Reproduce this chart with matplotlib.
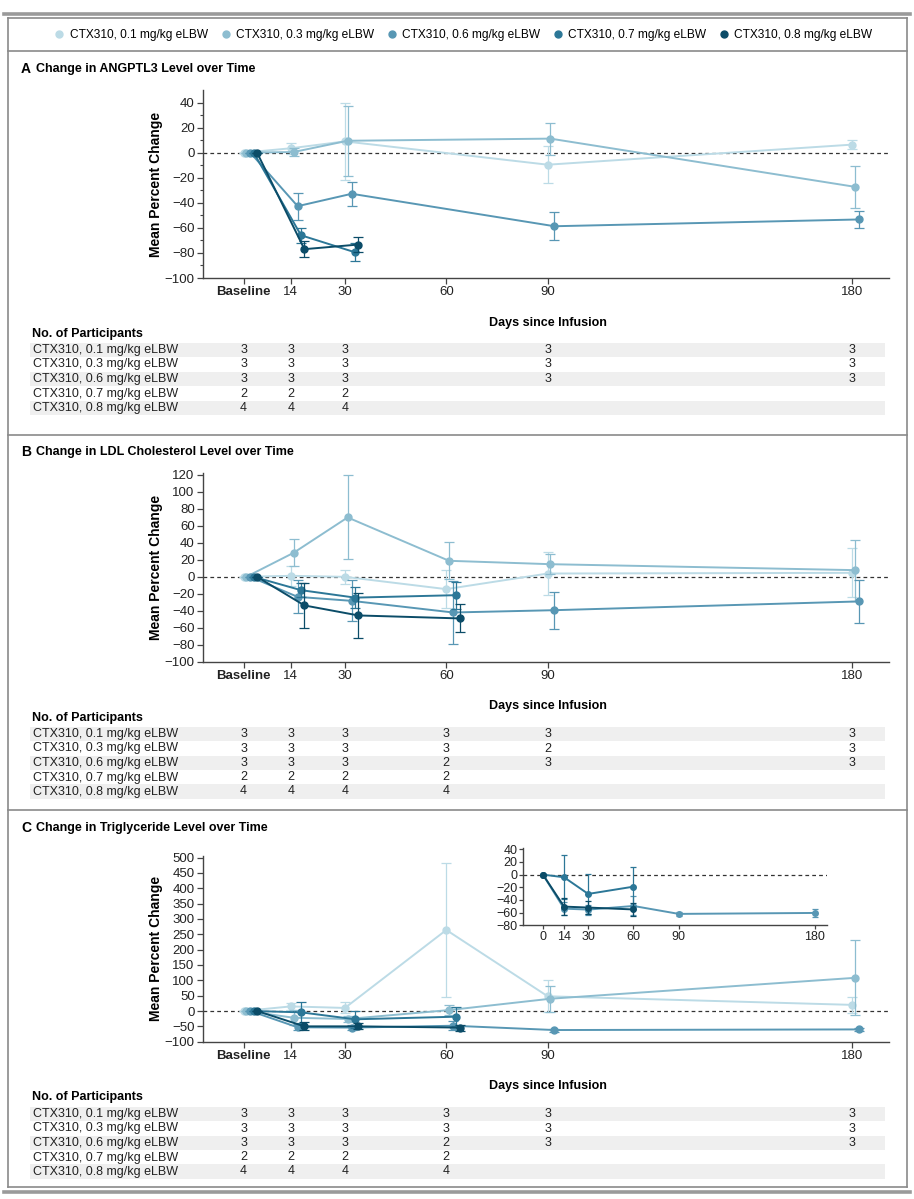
import numpy as np
import matplotlib
matplotlib.use('Agg')
from matplotlib import pyplot as plt
from matplotlib import transforms
from matplotlib.lines import Line2D
from matplotlib.patches import Rectangle

plt.rcParams['font.family'] = ['Liberation Sans', 'DejaVu Sans']

W, H = 914, 1199

doses = ['CTX310, 0.1 mg/kg eLBW', 'CTX310, 0.3 mg/kg eLBW', 'CTX310, 0.6 mg/kg eLBW',
         'CTX310, 0.7 mg/kg eLBW', 'CTX310, 0.8 mg/kg eLBW']
colors = ['#bcdbe6', '#8dbdd0', '#5897b4', '#2c7797', '#0b4c68']
days = [0, 14, 30, 60, 90, 180]
day_labels = ['Baseline', '14', '30', '60', '90', '180']
nan = np.nan

# panel A: ANGPTL3
angptl3_mean = [[0, 3.5, 9, nan, -9.6, 6.4],
                [0, 0.5, 9.5, nan, 11.2, -27.2],
                [0, -42.7, -32.8, nan, -58.7, -53.3],
                [0, -65.9, -79.5, nan, nan, nan],
                [0, -77, -73.3, nan, nan, nan]]
angptl3_err = [[0, 4.5, 31, nan, 14.7, 3.5],
               [0, 3, 28, nan, 12.8, 16.8],
               [0, 10.7, 9.5, nan, 11.2, 7],
               [0, 6, 7.3, nan, nan, nan],
               [0, 6.4, 5.9, nan, nan, nan]]
angptl3_n = [[3, 3, 3, None, 3, 3],
             [3, 3, 3, None, 3, 3],
             [3, 3, 3, None, 3, 3],
             [2, 2, 2, None, None, None],
             [4, 4, 4, None, None, None]]

# panel B: LDL cholesterol
ldl_mean = [[0, 1.2, 0, -14.5, 3.9, 4.7],
            [0, 28.3, 70, 18.9, 14.9, 7.9],
            [0, -23.6, -28.3, -42, -39.3, -29],
            [0, -15.7, -24.5, -21.6, nan, nan],
            [0, -33.7, -45.5, -49, nan, nan]]
ldl_err = [[0, 12, 8, 22, 25.5, 29],
           [0, 16, 49.5, 21.6, 11.5, 36],
           [0, 19.6, 24, 37, 22, 25],
           [0, 8, 12, 16, nan, nan],
           [0, 27, 26, 16.5, nan, nan]]
ldl_n = [[3, 3, 3, 3, 3, 3],
         [3, 3, 3, 3, 2, 3],
         [3, 3, 3, 2, 3, 3],
         [2, 2, 2, 2, None, None],
         [4, 4, 4, 4, None, None]]

# panel C: triglycerides
tg_mean = [[0, 15, 10, 264, 48, 20],
           [0, -22, -26, 3, 40, 108],
           [0, -53, -54, -48, -62, -60],
           [0, -4.3, -27, -18.5, nan, nan],
           [0, -50, -50, -54, nan, nan]]
tg_err = [[0, 12, 18, 219, 52, 27],
          [0, 25, 10, 15, 42, 122],
          [0, 10, 8, 15, 5, 5],
          [0, 35, 28, 30, nan, nan],
          [0, 13, 10, 10, nan, nan]]
tg_n = [[3, 3, 3, 3, 3, 3],
        [3, 3, 3, 3, 3, 3],
        [3, 3, 3, 2, 3, 3],
        [2, 2, 2, 2, None, None],
        [4, 4, 4, 4, None, None]]

# inset: triglycerides, higher doses
inset_mean = [[0, -53.7, -55.2, -49.5, -62, -60.5],
              [0, -4.2, -30.5, -19, nan, nan],
              [0, -50.5, -52, -55, nan, nan]]
inset_err = [[0, 10, 8, 15, 3, 6],
             [0, 35, 32, 31, nan, nan],
             [0, 13, 10, 10, nan, nan]]

offsets = [0, 0.8, 2, 3, 4]

fig = plt.figure(figsize=(W / 100, H / 100), dpi=100)


def fx(x):
    return x / W


def fy(y):
    return 1 - y / H


def axes_px(l, t, r, b):
    return fig.add_axes([fx(l), fy(b), (r - l) / W, (b - t) / H])


def hline(x0, x1, y, lw=1.2, color='#8a8a8a'):
    fig.add_artist(Line2D([fx(x0), fx(x1)], [fy(y), fy(y)], color=color, lw=lw))


def vline(x, y0, y1, lw=1.2, color='#8a8a8a'):
    fig.add_artist(Line2D([fx(x), fx(x)], [fy(y0), fy(y1)], color=color, lw=lw))


def draw_series(ax, means, errs, cols, offs, ms=5, cap=3.5):
    for i in range(len(means)):
        m = np.array(means[i], float)
        e = np.array(errs[i], float)
        ok = ~np.isnan(m)
        x = np.array(days, float)[ok] + offs[i]
        ax.errorbar(x, m[ok], yerr=e[ok], color=cols[i], lw=1.4, marker='o', ms=ms,
                    capsize=cap, elinewidth=0.9, capthick=0.9, zorder=3 + i)
    ax.axhline(0, color='#333333', ls=(0, (3, 2.5)), lw=0.9, zorder=1)


def style_axes(ax, ylim, major, minor=None, fs=9.5):
    for s in ['top', 'right']:
        ax.spines[s].set_visible(False)
    for s in ['left', 'bottom']:
        ax.spines[s].set_color('#444444')
        ax.spines[s].set_linewidth(1.0)
    ax.set_ylim(*ylim)
    ax.set_yticks(major)
    if minor is not None:
        ax.set_yticks(minor, minor=True)
    ax.set_yticklabels([str(v).replace('-', '\u2212') for v in major])
    ax.tick_params(axis='both', labelsize=fs, color='#444444', length=4, width=0.9,
                   pad=2, labelcolor='#222222')
    ax.tick_params(axis='y', which='minor', length=2.5, width=0.8, color='#444444')


def main_panel(top, bottom, ylim, major, minor, means, errs):
    ax = axes_px(203, top, 889, bottom)
    draw_series(ax, means, errs, colors, offsets)
    ax.set_xlim(-12, 191)
    style_axes(ax, ylim, major, minor)
    ax.set_xticks(days)
    ax.set_xticklabels(day_labels)
    ax.get_xticklabels()[0].set_fontweight('bold')
    ax.set_ylabel('Mean Percent Change', fontsize=10, fontweight='bold', labelpad=1)
    return ax


def panel_text(ax, letter, title, ytitle, ydays, yhead, rows_y, counts):
    fig.text(fx(21), fy(ytitle), letter, fontsize=10, fontweight='bold', va='center')
    fig.text(fx(36), fy(ytitle), title, fontsize=9, fontweight='bold', va='center')
    fig.text(fx(548), fy(ydays), 'Days since Infusion', fontsize=9,
             fontweight='bold', ha='center', va='center')
    fig.text(fx(32), fy(yhead), 'No. of Participants', fontsize=9,
             fontweight='bold', va='center')
    tr = transforms.blended_transform_factory(ax.transData, fig.transFigure)
    for i, y in enumerate(rows_y):
        if i % 2 == 0:
            fig.add_artist(Rectangle((fx(30), fy(y + 7.2)), (885 - 30) / W, 14.4 / H,
                                     facecolor='#efefef', edgecolor='none', zorder=0))
        fig.text(fx(33), fy(y), doses[i], fontsize=9, va='center', color='#222222')
        for d, n in zip(days, counts[i]):
            if n is not None:
                fig.text(d, fy(y), str(n), fontsize=9, ha='center', va='center',
                         transform=tr, color='#222222')


# frame lines
hline(4, 910, 13.5, lw=2.6, color='#9a9a9a')
hline(8, 907, 18)
hline(8, 907, 51)
hline(8, 907, 435)
hline(8, 907, 810)
hline(8, 907, 1187)
hline(4, 910, 1192, lw=2.6, color='#9a9a9a')
vline(8, 18, 1187)
vline(907, 18, 1187)

# legend
handles = [Line2D([], [], ls='none', marker='o', ms=5, color=c) for c in colors]
fig.legend(handles, doses, loc='center', bbox_to_anchor=(fx(463), fy(35)), ncol=5,
           frameon=False, fontsize=8.6, handletextpad=0.35, columnspacing=1.0,
           handlelength=1.0)

# panel A
axA = main_panel(90, 278, (-100, 50), np.arange(-100, 41, 20), np.arange(-100, 50, 10),
                 angptl3_mean, angptl3_err)
panel_text(axA, 'A', 'Change in ANGPTL3 Level over Time', 69, 323, 334,
           [350, 364.5, 379, 393.5, 408], angptl3_n)

# panel B
axB = main_panel(473.3, 661.7, (-100, 122), np.arange(-100, 121, 20), None,
                 ldl_mean, ldl_err)
panel_text(axB, 'B', 'Change in LDL Cholesterol Level over Time', 452, 706, 718,
           [734, 748.5, 763, 777.5, 791.5], ldl_n)

# panel C
axC = main_panel(855.7, 1041.7, (-100, 506), np.arange(-100, 501, 50), None,
                 tg_mean, tg_err)
panel_text(axC, 'C', 'Change in Triglyceride Level over Time', 828, 1086, 1097,
           [1114, 1128.5, 1143, 1157.5, 1171.5], tg_n)

# inset
axI = axes_px(523.3, 848, 826.7, 925.3)
draw_series(axI, inset_mean, inset_err, colors[2:], [0, 0, 0], ms=4, cap=2.5)
axI.set_xlim(-13, 188)
style_axes(axI, (-80, 42), np.arange(-80, 41, 20), fs=9)
axI.set_xticks(days)
axI.set_xticklabels(['0', '14', '30', '60', '90', '180'])
axI.tick_params(length=3, pad=1)
axI.patch.set_alpha(0)

fig.savefig('out.png', dpi=100)
